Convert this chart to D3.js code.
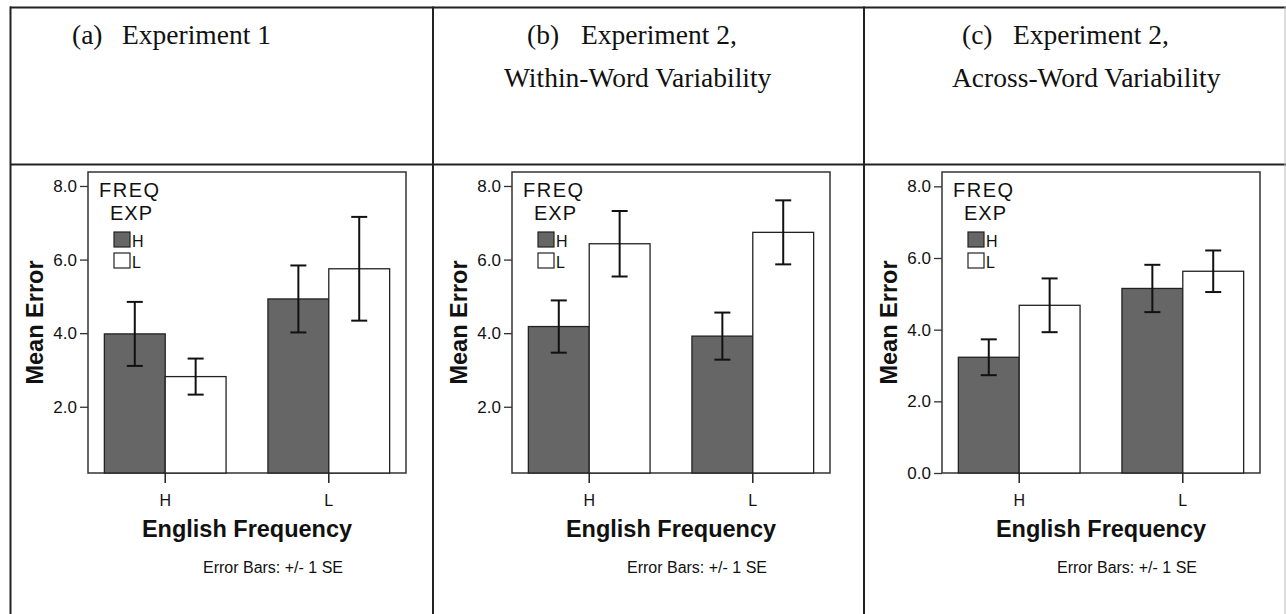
<!DOCTYPE html>
<html>
<head>
<meta charset="utf-8">
<script src="https://cdn.jsdelivr.net/npm/d3@7"></script>
<style>
  body { margin: 0; background: #fff; }
  svg { display: block; }
</style>
</head>
<body>
<div id="figure"></div>
<script>
// English frequency groups on the x axis, EXP levels inside each group
var freqCategories = ['H', 'L'];
var expLevels = ['H', 'L'];

// rows: English frequency H, L / cols: EXP H, L
var meansA = [[3.98, 2.82], [4.93, 5.75]];
var seA = [[0.87, 0.49], [0.91, 1.41]];
var meansB = [[4.18, 6.43], [3.92, 6.74]];
var seB = [[0.71, 0.89], [0.64, 0.87]];
var meansC = [[3.23, 4.68], [5.15, 5.63]];
var seC = [[0.50, 0.75], [0.66, 0.58]];

var yTicksAB = [2, 4, 6, 8];
var yTicksC = [0, 2, 4, 6, 8];

var titleTags = ['(a)', '(b)', '(c)'];
var titleLine1 = ['Experiment 1', 'Experiment 2,', 'Experiment 2,'];
var titleLine2 = ['', 'Within-Word Variability', 'Across-Word Variability'];

// page layout
var width = 1286;
var height = 614;
var boxTop = 172, boxBottom = 473, boxWidth = 318;
var sans = "'Liberation Sans', Arial, sans-serif";
var serif = "'Liberation Serif', 'Times New Roman', serif";

var panels = [
  { means: meansA, se: seA, ticks: yTicksAB, domain: [0.2, 8.38], left: 88,  tagX: 72,  line1X: 122,  line2X: 0 },
  { means: meansB, se: seB, ticks: yTicksAB, domain: [0.2, 8.38], left: 512, tagX: 527, line1X: 581,  line2X: 504 },
  { means: meansC, se: seC, ticks: yTicksC,  domain: [0, 8.4],    left: 942, tagX: 962, line1X: 1013, line2X: 952 }
];

var svg = d3.select("#figure")
  .append("svg")
  .attr("width", width)
  .attr("height", height);

// table rules
var rules = svg.append("g").attr("stroke", "#222").attr("stroke-width", 2);
rules.append("line").attr("x1", 10).attr("x2", width).attr("y1", 7.5).attr("y2", 7.5);
rules.append("line").attr("x1", 10).attr("x2", width).attr("y1", 164.5).attr("y2", 164.5);
[10.5, 433, 864].forEach(function (x) {
  rules.append("line").attr("x1", x).attr("x2", x).attr("y1", 6.5).attr("y2", height);
});
svg.append("line")
  .attr("x1", 1285).attr("x2", 1285).attr("y1", 7).attr("y2", height)
  .attr("stroke", "#bbb").attr("stroke-width", 1);

panels.forEach(function (p, i) {
  // header text
  var head = svg.append("g")
    .style("font-family", serif)
    .style("font-size", "27.5px")
    .style("fill", "#111");
  head.append("text").attr("x", p.tagX).attr("y", 44).text(titleTags[i]);
  head.append("text").attr("x", p.line1X).attr("y", 44).text(titleLine1[i]);
  if (titleLine2[i]) {
    head.append("text").attr("x", p.line2X).attr("y", 87).text(titleLine2[i]);
  }

  var x = d3.scaleBand()
    .domain(freqCategories)
    .range([p.left, p.left + boxWidth])
    .paddingInner(0.256)
    .paddingOuter(0.1);

  var xExp = d3.scaleBand()
    .domain(expLevels)
    .range([0, x.bandwidth()]);

  var y = d3.scaleLinear()
    .domain(p.domain)
    .range([boxBottom, boxTop]);

  var g = svg.append("g");

  // plot frame
  g.append("rect")
    .attr("x", p.left)
    .attr("y", boxTop)
    .attr("width", boxWidth)
    .attr("height", boxBottom - boxTop)
    .attr("fill", "#fff")
    .attr("stroke", "#333")
    .attr("stroke-width", 1.5);

  var cells = [];
  freqCategories.forEach(function (f, fi) {
    expLevels.forEach(function (e, ei) {
      cells.push({ freq: f, exp: e, mean: p.means[fi][ei], se: p.se[fi][ei] });
    });
  });

  // bars
  g.selectAll("rect.bar")
    .data(cells)
    .enter().append("rect")
    .attr("class", "bar")
    .attr("x", d => x(d.freq) + xExp(d.exp))
    .attr("y", d => y(d.mean))
    .attr("width", xExp.bandwidth())
    .attr("height", d => boxBottom - y(d.mean))
    .attr("fill", d => d.exp === 'H' ? "#666" : "#fff")
    .attr("stroke", "#222")
    .attr("stroke-width", 1.3);

  // error bars (+/- 1 SE)
  var err = g.selectAll("g.err")
    .data(cells)
    .enter().append("g")
    .attr("class", "err")
    .attr("stroke", "#111")
    .attr("stroke-width", 2);
  var cx = d => x(d.freq) + xExp(d.exp) + xExp.bandwidth() / 2;
  err.append("line")
    .attr("x1", cx).attr("x2", cx)
    .attr("y1", d => y(d.mean + d.se))
    .attr("y2", d => y(d.mean - d.se));
  err.append("line")
    .attr("x1", d => cx(d) - 8).attr("x2", d => cx(d) + 8)
    .attr("y1", d => y(d.mean + d.se)).attr("y2", d => y(d.mean + d.se));
  err.append("line")
    .attr("x1", d => cx(d) - 8).attr("x2", d => cx(d) + 8)
    .attr("y1", d => y(d.mean - d.se)).attr("y2", d => y(d.mean - d.se));

  // y axis
  var yAxis = g.append("g")
    .attr("transform", "translate(" + p.left + ",0)")
    .call(d3.axisLeft(y).tickValues(p.ticks).tickFormat(d3.format(".1f")).tickSize(8).tickPadding(3));
  yAxis.select(".domain").remove();
  yAxis.selectAll("line").attr("stroke", "#333").attr("stroke-width", 1.3);
  yAxis.selectAll("text")
    .style("font-family", sans)
    .style("font-size", "17px")
    .style("fill", "#111");

  // x axis, ticks at the centre of each group
  var xAxis = g.append("g")
    .attr("transform", "translate(0," + boxBottom + ")")
    .call(d3.axisBottom(x).tickSize(10).tickPadding(12));
  xAxis.select(".domain").remove();
  xAxis.selectAll("line").attr("stroke", "#222").attr("stroke-width", 1.5);
  xAxis.selectAll("text")
    .style("font-family", sans)
    .style("font-size", "16px")
    .style("fill", "#111");

  // axis titles
  g.append("text")
    .attr("transform", "translate(" + (p.left - 45) + "," + ((boxTop + boxBottom) / 2) + ") rotate(-90)")
    .attr("text-anchor", "middle")
    .style("font-family", sans)
    .style("font-weight", "bold")
    .style("font-size", "23.5px")
    .style("fill", "#111")
    .text("Mean Error");

  g.append("text")
    .attr("x", p.left + boxWidth / 2)
    .attr("y", 537)
    .attr("text-anchor", "middle")
    .style("font-family", sans)
    .style("font-weight", "bold")
    .style("font-size", "23.5px")
    .style("fill", "#111")
    .text("English Frequency");

  g.append("text")
    .attr("x", p.left + boxWidth / 2 + 26)
    .attr("y", 573)
    .attr("text-anchor", "middle")
    .style("font-family", sans)
    .style("font-size", "16px")
    .style("fill", "#111")
    .text("Error Bars: +/- 1 SE");

  // legend
  var leg = g.append("g")
    .style("font-family", sans)
    .style("fill", "#111");
  leg.append("text").attr("x", p.left + 11).attr("y", boxTop + 25)
    .style("font-size", "20px").style("letter-spacing", "1.5px").text("FREQ");
  leg.append("text").attr("x", p.left + 22).attr("y", boxTop + 48)
    .style("font-size", "20px").style("letter-spacing", "1px").text("EXP");
  expLevels.forEach(function (e, ei) {
    leg.append("rect")
      .attr("x", p.left + 26)
      .attr("y", boxTop + 60 + ei * 21)
      .attr("width", 16)
      .attr("height", 15)
      .attr("fill", e === 'H' ? "#666" : "#fff")
      .attr("stroke", "#222")
      .attr("stroke-width", 1.2);
    leg.append("text")
      .attr("x", p.left + 44)
      .attr("y", boxTop + 75 + ei * 21)
      .style("font-size", "16px")
      .text(e);
  });
});
</script>
</body>
</html>
